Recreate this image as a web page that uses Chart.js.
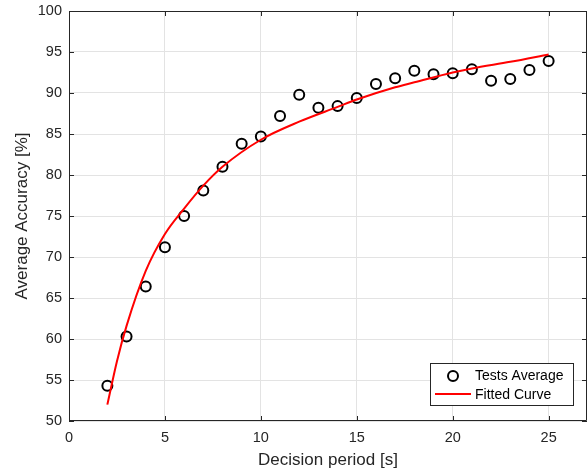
<!DOCTYPE html>
<html>
<head>
<meta charset="utf-8">
<script src="https://cdn.jsdelivr.net/npm/chart.js@4.4.1/dist/chart.umd.min.js"></script>
<style>
  html, body { margin: 0; padding: 0; background: #fff; }
  #wrap { width: 588px; height: 473px; }
</style>
</head>
<body>
<div id="wrap"><canvas id="myChart" width="588" height="473"></canvas></div>
<script>
// Tests average (decision period [s] -> accuracy [%])
var periods = [2, 3, 4, 5, 6, 7, 8, 9, 10, 11, 12, 13, 14, 15, 16, 17, 18, 19, 20, 21, 22, 23, 24, 25];
var accuracy = [54.3, 60.3, 66.4, 71.2, 75.0, 78.1, 81.0, 83.8, 84.7, 87.2, 89.8, 88.2,
                88.4, 89.4, 91.1, 91.8, 92.7, 92.3, 92.4, 92.9, 91.5, 91.7, 92.8, 93.9];

// Fitted curve
var fitX = [2, 2.5, 3, 4, 5, 6, 7, 8, 10, 12, 14, 15, 17, 18, 20, 21, 23, 25];
var fitY = [52.0, 57.3, 61.6, 68.3, 72.8, 75.9, 78.7, 81.0, 84.3, 86.5, 88.3, 89.2, 90.7, 91.3, 92.5, 93.0, 93.8, 94.7];

var xTicks = [0, 5, 10, 15, 20, 25];
var yTicks = [50, 55, 60, 65, 70, 75, 80, 85, 90, 95, 100];

var axisColor = '#262626';
var fontFamily = '"Liberation Sans", Arial, Helvetica, sans-serif';

function toPoints(xs, ys) {
    return xs.map(function(x, i) { return {x: x, y: ys[i]}; });
}

// no extra room for the end labels, the layout padding does it
function noLabelPadding(scale) {
    scale.paddingLeft = 0;
    scale.paddingRight = 0;
    scale.paddingTop = 0;
    scale.paddingBottom = 0;
}

// box around the axes with inward ticks, like matlab
var boxPlugin = {
    id: 'box',
    afterDatasetsDraw: function(chart) {
        var ctx = chart.ctx, a = chart.chartArea;
        var xs = chart.scales.x, ys = chart.scales.y;
        var len = 5;
        ctx.save();
        ctx.strokeStyle = axisColor;
        ctx.lineWidth = 1;
        ctx.beginPath();
        ctx.rect(a.left + 0.5, a.top + 0.5, a.right - a.left - 1, a.bottom - a.top - 1);
        xs.ticks.forEach(function(t) {
            var px = Math.round(xs.getPixelForValue(t.value)) + 0.5;
            ctx.moveTo(px, a.bottom); ctx.lineTo(px, a.bottom - len);
            ctx.moveTo(px, a.top); ctx.lineTo(px, a.top + len);
        });
        ys.ticks.forEach(function(t) {
            var py = Math.round(ys.getPixelForValue(t.value)) + 0.5;
            ctx.moveTo(a.left, py); ctx.lineTo(a.left + len, py);
            ctx.moveTo(a.right, py); ctx.lineTo(a.right - len, py);
        });
        ctx.stroke();
        ctx.restore();
    }
};

// legend in the lower right corner
var legendPlugin = {
    id: 'cornerLegend',
    afterDraw: function(chart) {
        var ctx = chart.ctx, a = chart.chartArea;
        var w = 143, h = 42;
        var x0 = a.right - 14 - w, y0 = a.bottom - 16 - h;
        ctx.save();
        ctx.fillStyle = '#fff';
        ctx.fillRect(x0, y0, w, h);
        ctx.strokeStyle = axisColor;
        ctx.lineWidth = 1;
        ctx.strokeRect(x0 + 0.5, y0 + 0.5, w, h);

        ctx.beginPath();
        ctx.arc(x0 + 23, y0 + 13, 5, 0, Math.PI * 2);
        ctx.strokeStyle = '#000';
        ctx.lineWidth = 2;
        ctx.stroke();

        ctx.beginPath();
        ctx.moveTo(x0 + 5, y0 + 31);
        ctx.lineTo(x0 + 41, y0 + 31);
        ctx.strokeStyle = '#ff0000';
        ctx.stroke();

        ctx.fillStyle = '#000';
        ctx.font = '14px ' + fontFamily;
        ctx.textBaseline = 'middle';
        ctx.fillText(chart.data.datasets[1].label, x0 + 45, y0 + 13);
        ctx.fillText(chart.data.datasets[0].label, x0 + 45, y0 + 32);
        ctx.restore();
    }
};

var chartCanvas = document.getElementById('myChart');
var ctx = chartCanvas.getContext('2d');
var myChart = new Chart(ctx, {
    type: 'scatter',
    data: {
        datasets: [{
            type: 'line',
            label: 'Fitted Curve',
            data: toPoints(fitX, fitY),
            borderColor: '#ff0000',
            borderWidth: 2,
            pointRadius: 0,
            fill: false,
            showLine: true,
            cubicInterpolationMode: 'monotone',
            order: 0
        }, {
            label: 'Tests Average',
            data: toPoints(periods, accuracy),
            pointRadius: 5,
            pointBorderWidth: 2,
            borderColor: '#000',
            backgroundColor: 'rgba(0,0,0,0)',
            order: 1
        }]
    },
    options: {
        responsive: false,
        animation: false,
        layout: { autoPadding: false, padding: { left: 0, right: 1, top: 11, bottom: 0 } },
        plugins: {
            legend: { display: false },
            tooltip: { enabled: false }
        },
        scales: {
            x: {
                type: 'linear',
                min: 0,
                max: 27,
                afterBuildTicks: function(scale) {
                    scale.ticks = xTicks.map(function(v) { return {value: v}; });
                },
                afterFit: function(scale) {
                    scale.height = 52;
                    noLabelPadding(scale);
                },
                grid: { color: '#e3e3e3', drawTicks: false },
                border: { display: false },
                ticks: {
                    color: axisColor,
                    padding: 8,
                    maxRotation: 0,
                    font: { family: fontFamily, size: 14.5 }
                },
                title: {
                    display: true,
                    text: 'Decision period [s]',
                    color: axisColor,
                    padding: { top: 0, bottom: 2 },
                    font: { family: fontFamily, size: 17 }
                }
            },
            y: {
                min: 50,
                max: 100,
                afterBuildTicks: function(scale) {
                    scale.ticks = yTicks.map(function(v) { return {value: v}; });
                },
                afterFit: function(scale) {
                    scale.width = 69;
                    noLabelPadding(scale);
                },
                grid: { color: '#e3e3e3', drawTicks: false },
                border: { display: false },
                ticks: {
                    color: axisColor,
                    padding: 7,
                    font: { family: fontFamily, size: 14.5 }
                },
                title: {
                    display: true,
                    text: 'Average Accuracy [%]',
                    color: axisColor,
                    padding: { top: 12, bottom: 0 },
                    font: { family: fontFamily, size: 17 }
                }
            }
        }
    },
    plugins: [boxPlugin, legendPlugin]
});
</script>
</body>
</html>
